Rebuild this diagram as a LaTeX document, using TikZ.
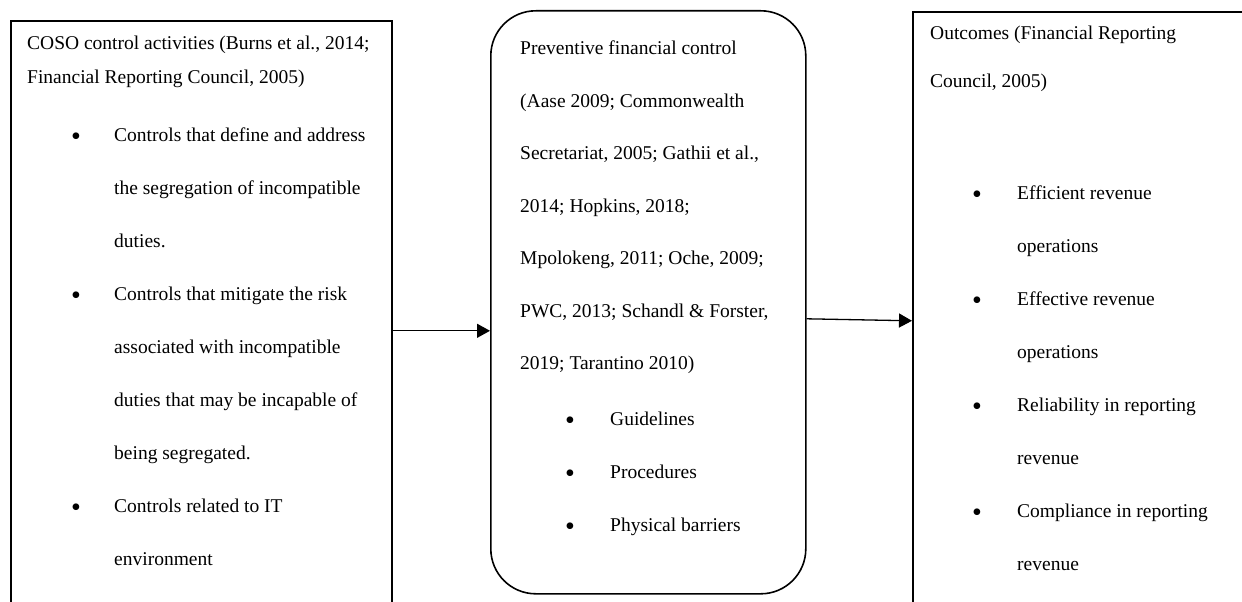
\documentclass[tikz,border=0pt]{standalone}
\usepackage{fontspec}
\setmainfont{Liberation Serif}
\usepackage{tikz}
\usetikzlibrary{arrows.meta,calc}
\newcommand{\bodyfont}{\fontsize{19.5}{53}\selectfont}
\newcommand{\headfont}{\fontsize{19.5}{33}\selectfont}
% lines stacked with the first line as baseline
\newcommand{\stack}[1]{\begin{tabular}[t]{@{}l@{}}#1\end{tabular}}
\tikzset{
  fig/box/.style    ={draw=black, line width=1.6pt, anchor=north west, inner sep=0pt},
  fig/roundbox/.style={fig/box, rounded corners=45pt},
  fig/txt/.style    ={font=\bodyfont, anchor=base west, inner sep=0pt},
  fig/head/.style   ={fig/txt, font=\headfont},
  fig/dot/.style    ={font=\fontsize{28}{28}\selectfont, anchor=base, inner sep=0pt, yshift=-4pt},
  fig/arr/.style    ={-{Triangle[length=13pt, width=14pt]}, line width=1.3pt}
}
\begin{document}
\begin{tikzpicture}[x=1pt, y=-1pt]
    \useasboundingbox (0,0) rectangle (1242,602);
    \clip (0,0) rectangle (1242,602);

    % --- the three boxes ---
    \node[fig/box, minimum width=381pt, minimum height=620pt] (coso) at (10,20) {};
    \node[fig/roundbox, minimum width=315pt, minimum height=583pt] (pfc) at (490,10) {};
    \node[fig/box, minimum width=340pt, minimum height=630pt] (outc) at (912,11) {};

    % --- left: COSO control activities ---
    \node[fig/head] (cosohead) at (27,50)
         {\stack{COSO control activities (Burns et al., 2014;\\Financial Reporting Council, 2005)}};
    \node[fig/dot] (cosob1) at (76,141) {\textbullet};
    \node[fig/txt] (cosoi1) at (114,141)
         {\stack{Controls that define and address\\the segregation of incompatible\\duties.}};
    \node[fig/dot] (cosob2) at (76,300) {\textbullet};
    \node[fig/txt] (cosoi2) at (114,300)
         {\stack{Controls that mitigate the risk\\associated with incompatible\\duties that may be incapable of\\being segregated.}};
    \node[fig/dot] (cosob3) at (76,512) {\textbullet};
    \node[fig/txt] (cosoi3) at (114,512) {\stack{Controls related to IT\\environment}};

    % --- middle: preventive financial control ---
    \node[fig/txt, font=\fontsize{19.5}{52.5}\selectfont] (pfchead) at (520,55)
         {\stack{Preventive financial control\\(Aase 2009; Commonwealth\\Secretariat, 2005; Gathii et al.,\\2014; Hopkins, 2018;\\Mpolokeng, 2011; Oche, 2009;\\PWC, 2013; Schandl \& Forster,\\2019; Tarantino 2010)}};
    \node[fig/dot] (pfcb1) at (570,425) {\textbullet};
    \node[fig/txt] (pfci1) at (610,425) {Guidelines};
    \node[fig/dot] (pfcb2) at (570,478) {\textbullet};
    \node[fig/txt] (pfci2) at (610,478) {Procedures};
    \node[fig/dot] (pfcb3) at (570,531) {\textbullet};
    \node[fig/txt] (pfci3) at (610,531) {Physical barriers};

    % --- right: outcomes ---
    \node[fig/txt, font=\fontsize{19.5}{48}\selectfont] (outchead) at (930,40)
         {\stack{Outcomes (Financial Reporting\\Council, 2005)}};
    \node[fig/dot] (outcb1) at (977,199) {\textbullet};
    \node[fig/txt] (outci1) at (1017,199) {\stack{Efficient revenue\\operations}};
    \node[fig/dot] (outcb2) at (977,305) {\textbullet};
    \node[fig/txt] (outci2) at (1017,305) {\stack{Effective revenue\\operations}};
    \node[fig/dot] (outcb3) at (977,411) {\textbullet};
    \node[fig/txt] (outci3) at (1017,411) {\stack{Reliability in reporting\\revenue}};
    \node[fig/dot] (outcb4) at (977,517) {\textbullet};
    \node[fig/txt] (outci4) at (1017,517) {\stack{Compliance in reporting\\revenue}};

    % --- arrows ---
    \draw[fig/arr] (coso.east) -- (coso.east -| pfc.west);
    \draw[fig/arr] ([yshift=-16.5pt]pfc.east) -- ([yshift=6pt]outc.west);
\end{tikzpicture}
\end{document}
